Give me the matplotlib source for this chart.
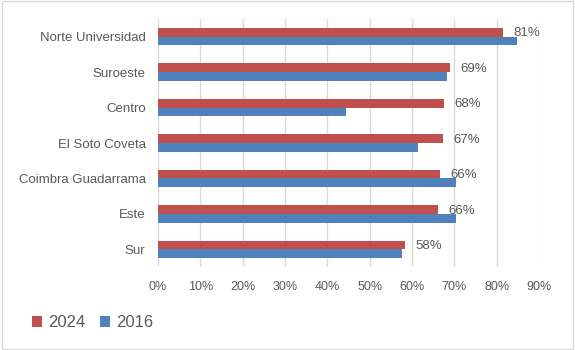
import matplotlib

matplotlib.use("Agg")
import matplotlib.pyplot as plt
import numpy as np
from matplotlib.patches import Rectangle
from matplotlib.ticker import PercentFormatter

plt.rcParams["font.family"] = ["Liberation Sans", "DejaVu Sans"]

categories = [
    "Norte Universidad",
    "Suroeste",
    "Centro",
    "El Soto Coveta",
    "Coimbra Guadarrama",
    "Este",
    "Sur",
]
values_2024 = [0.814, 0.690, 0.676, 0.673, 0.665, 0.661, 0.583]
values_2016 = [0.847, 0.682, 0.443, 0.613, 0.703, 0.703, 0.576]

RED = "#C0504D"
BLUE = "#4F81BD"
TEXT = "#595959"
GRID = "#D9D9D9"

fig = plt.figure(figsize=(5.75, 3.5), dpi=100)
ax = fig.add_axes([0.2748, 0.237, 0.6626, 0.7087])

y = np.arange(len(categories))
h = 0.245
ax.barh(y - h / 2, values_2024, height=h, color=RED, label="2024", zorder=2)
ax.barh(y + h / 2, values_2016, height=h, color=BLUE, label="2016", zorder=2)

for yi, v in zip(y, values_2024):
    ax.annotate(f"{v:.0%}", (v, yi - h / 2 + 0.03), xytext=(7.5, 0),
                textcoords="offset points", ha="left", va="center",
                fontsize=9.5, color=TEXT)

ax.set_xlim(0, 0.9)
ax.set_ylim(len(categories) - 0.5, -0.5)
ax.set_xticks(np.arange(0, 0.91, 0.1))
ax.xaxis.set_major_formatter(PercentFormatter(1.0, decimals=0))
ax.set_yticks(y)
ax.set_yticklabels(categories, fontsize=9.5)
ax.tick_params(axis="x", length=0, colors=TEXT, labelsize=9, pad=10)
ax.tick_params(axis="y", length=0, colors=TEXT, pad=9)
ax.grid(axis="x", color=GRID, linewidth=1, zorder=0)
for spine in ax.spines.values():
    spine.set_visible(False)

fig.legend(loc="center left", bbox_to_anchor=(0.03, 0.078), ncol=2,
           frameon=False, fontsize=12, labelcolor=TEXT,
           handlelength=0.6, handleheight=0.6, handletextpad=0.35,
           columnspacing=0.9)

fig.patches.append(Rectangle((0.003, 0.004), 0.994, 0.992, transform=fig.transFigure,
                             fill=False, edgecolor=GRID, linewidth=1))

fig.savefig("out.png", dpi=100)
